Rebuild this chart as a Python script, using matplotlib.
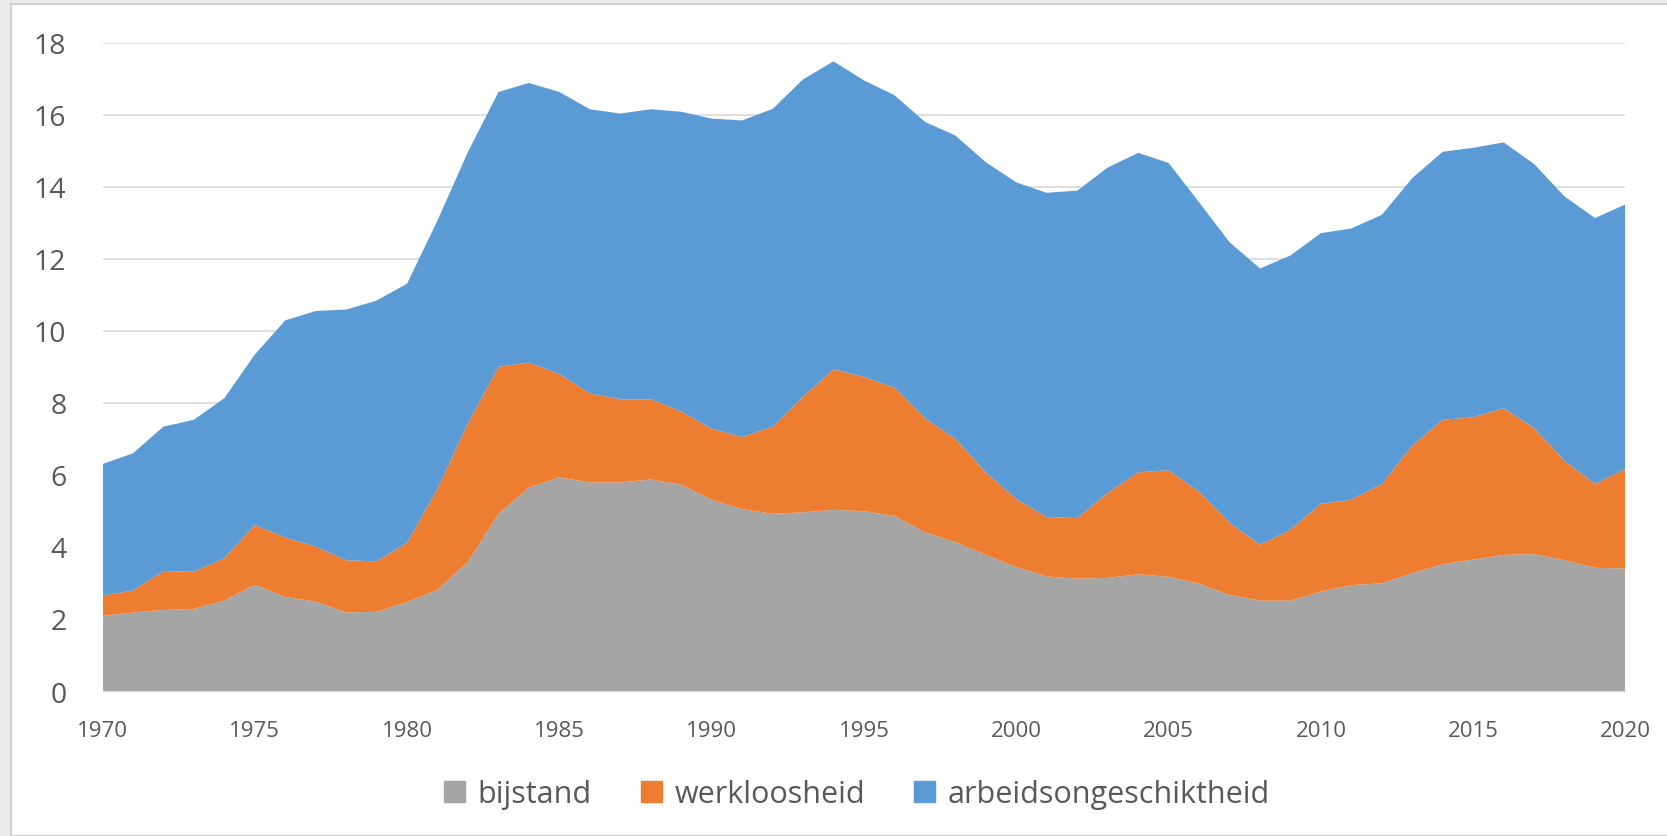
import matplotlib.pyplot as plt
from matplotlib.patches import Rectangle, Patch

# Values
years = list(range(1970, 2021))
bijstand = [2.09, 2.18, 2.25, 2.28, 2.51, 2.95, 2.61, 2.48, 2.18, 2.20,
            2.47, 2.81, 3.59, 4.92, 5.65, 5.93, 5.79, 5.79, 5.87, 5.73,
            5.31, 5.05, 4.92, 4.96, 5.03, 4.99, 4.86, 4.41, 4.13, 3.78,
            3.44, 3.18, 3.12, 3.14, 3.24, 3.17, 2.98, 2.67, 2.51, 2.51,
            2.76, 2.94, 2.99, 3.27, 3.52, 3.65, 3.78, 3.80, 3.63, 3.42,
            3.40]
totaal_werkloos = [2.65, 2.79, 3.33, 3.31, 3.69, 4.61, 4.26, 4.01, 3.63, 3.60,
                   4.12, 5.62, 7.44, 9.00, 9.12, 8.80, 8.26, 8.10, 8.10, 7.76,
                   7.28, 7.05, 7.34, 8.17, 8.93, 8.72, 8.42, 7.57, 7.00, 6.07,
                   5.33, 4.83, 4.80, 5.50, 6.07, 6.13, 5.53, 4.67, 4.06, 4.48,
                   5.20, 5.31, 5.75, 6.81, 7.53, 7.60, 7.85, 7.30, 6.39, 5.75,
                   6.17]
totaal_ao = [6.30, 6.60, 7.34, 7.53, 8.13, 9.34, 10.29, 10.55, 10.59, 10.84,
             11.31, 13.07, 14.97, 16.63, 16.88, 16.63, 16.15, 16.03, 16.15, 16.08,
             15.89, 15.84, 16.16, 16.98, 17.48, 16.95, 16.54, 15.80, 15.42, 14.68,
             14.12, 13.83, 13.89, 14.53, 14.94, 14.66, 13.57, 12.46, 11.73, 12.09,
             12.71, 12.84, 13.22, 14.24, 14.97, 15.08, 15.23, 14.63, 13.73, 13.13,
             13.51]
werkloosheid = [w - b for w, b in zip(totaal_werkloos, bijstand)]
arbeidsongeschiktheid = [a - w for a, w in zip(totaal_ao, totaal_werkloos)]

labels = ['bijstand', 'werkloosheid', 'arbeidsongeschiktheid']
colors = ['#a5a5a5', '#ed7d31', '#5b9bd5']

plt.rcParams['font.family'] = ['Open Sans', 'DejaVu Sans']

fig = plt.figure(figsize=(16.67, 8.37), dpi=100, facecolor='#ebebeb')
fig.patches.append(Rectangle((11 / 1667, 0), 1, 1 - 5 / 837, transform=fig.transFigure,
                             facecolor='white', edgecolor='#d0d0d0', linewidth=1.5,
                             zorder=-10))

ax = fig.add_axes([0.0615, 0.1732, 0.9136, 0.7747])
ax.set_facecolor('none')
ax.stackplot(years, bijstand, werkloosheid, arbeidsongeschiktheid,
             colors=colors, labels=labels, linewidth=0)

ax.set_xlim(1970, 2020)
ax.set_ylim(0, 18)
ax.set_yticks(range(0, 19, 2))
ax.set_xticks(range(1970, 2021, 5))
ax.grid(axis='y', color='#d9d9d9', linewidth=1.2)
ax.set_axisbelow(True)
for s in ['top', 'right', 'left']:
    ax.spines[s].set_visible(False)
ax.spines['bottom'].set_color('#d9d9d9')
ax.tick_params(axis='y', length=0, pad=26, labelsize=20.5, labelcolor='#595959')
ax.tick_params(axis='x', length=0, pad=21, labelsize=16, labelcolor='#595959')

handles = [Patch(color=c) for c in colors]
fig.legend(handles, labels, loc='center', bbox_to_anchor=(0.514, 0.05), ncol=3,
           frameon=False, fontsize=22, labelcolor='#595959',
           handlelength=0.7, handleheight=0.7, handletextpad=0.4, columnspacing=1.6)

fig.savefig('out.png', dpi=100, facecolor=fig.get_facecolor())
